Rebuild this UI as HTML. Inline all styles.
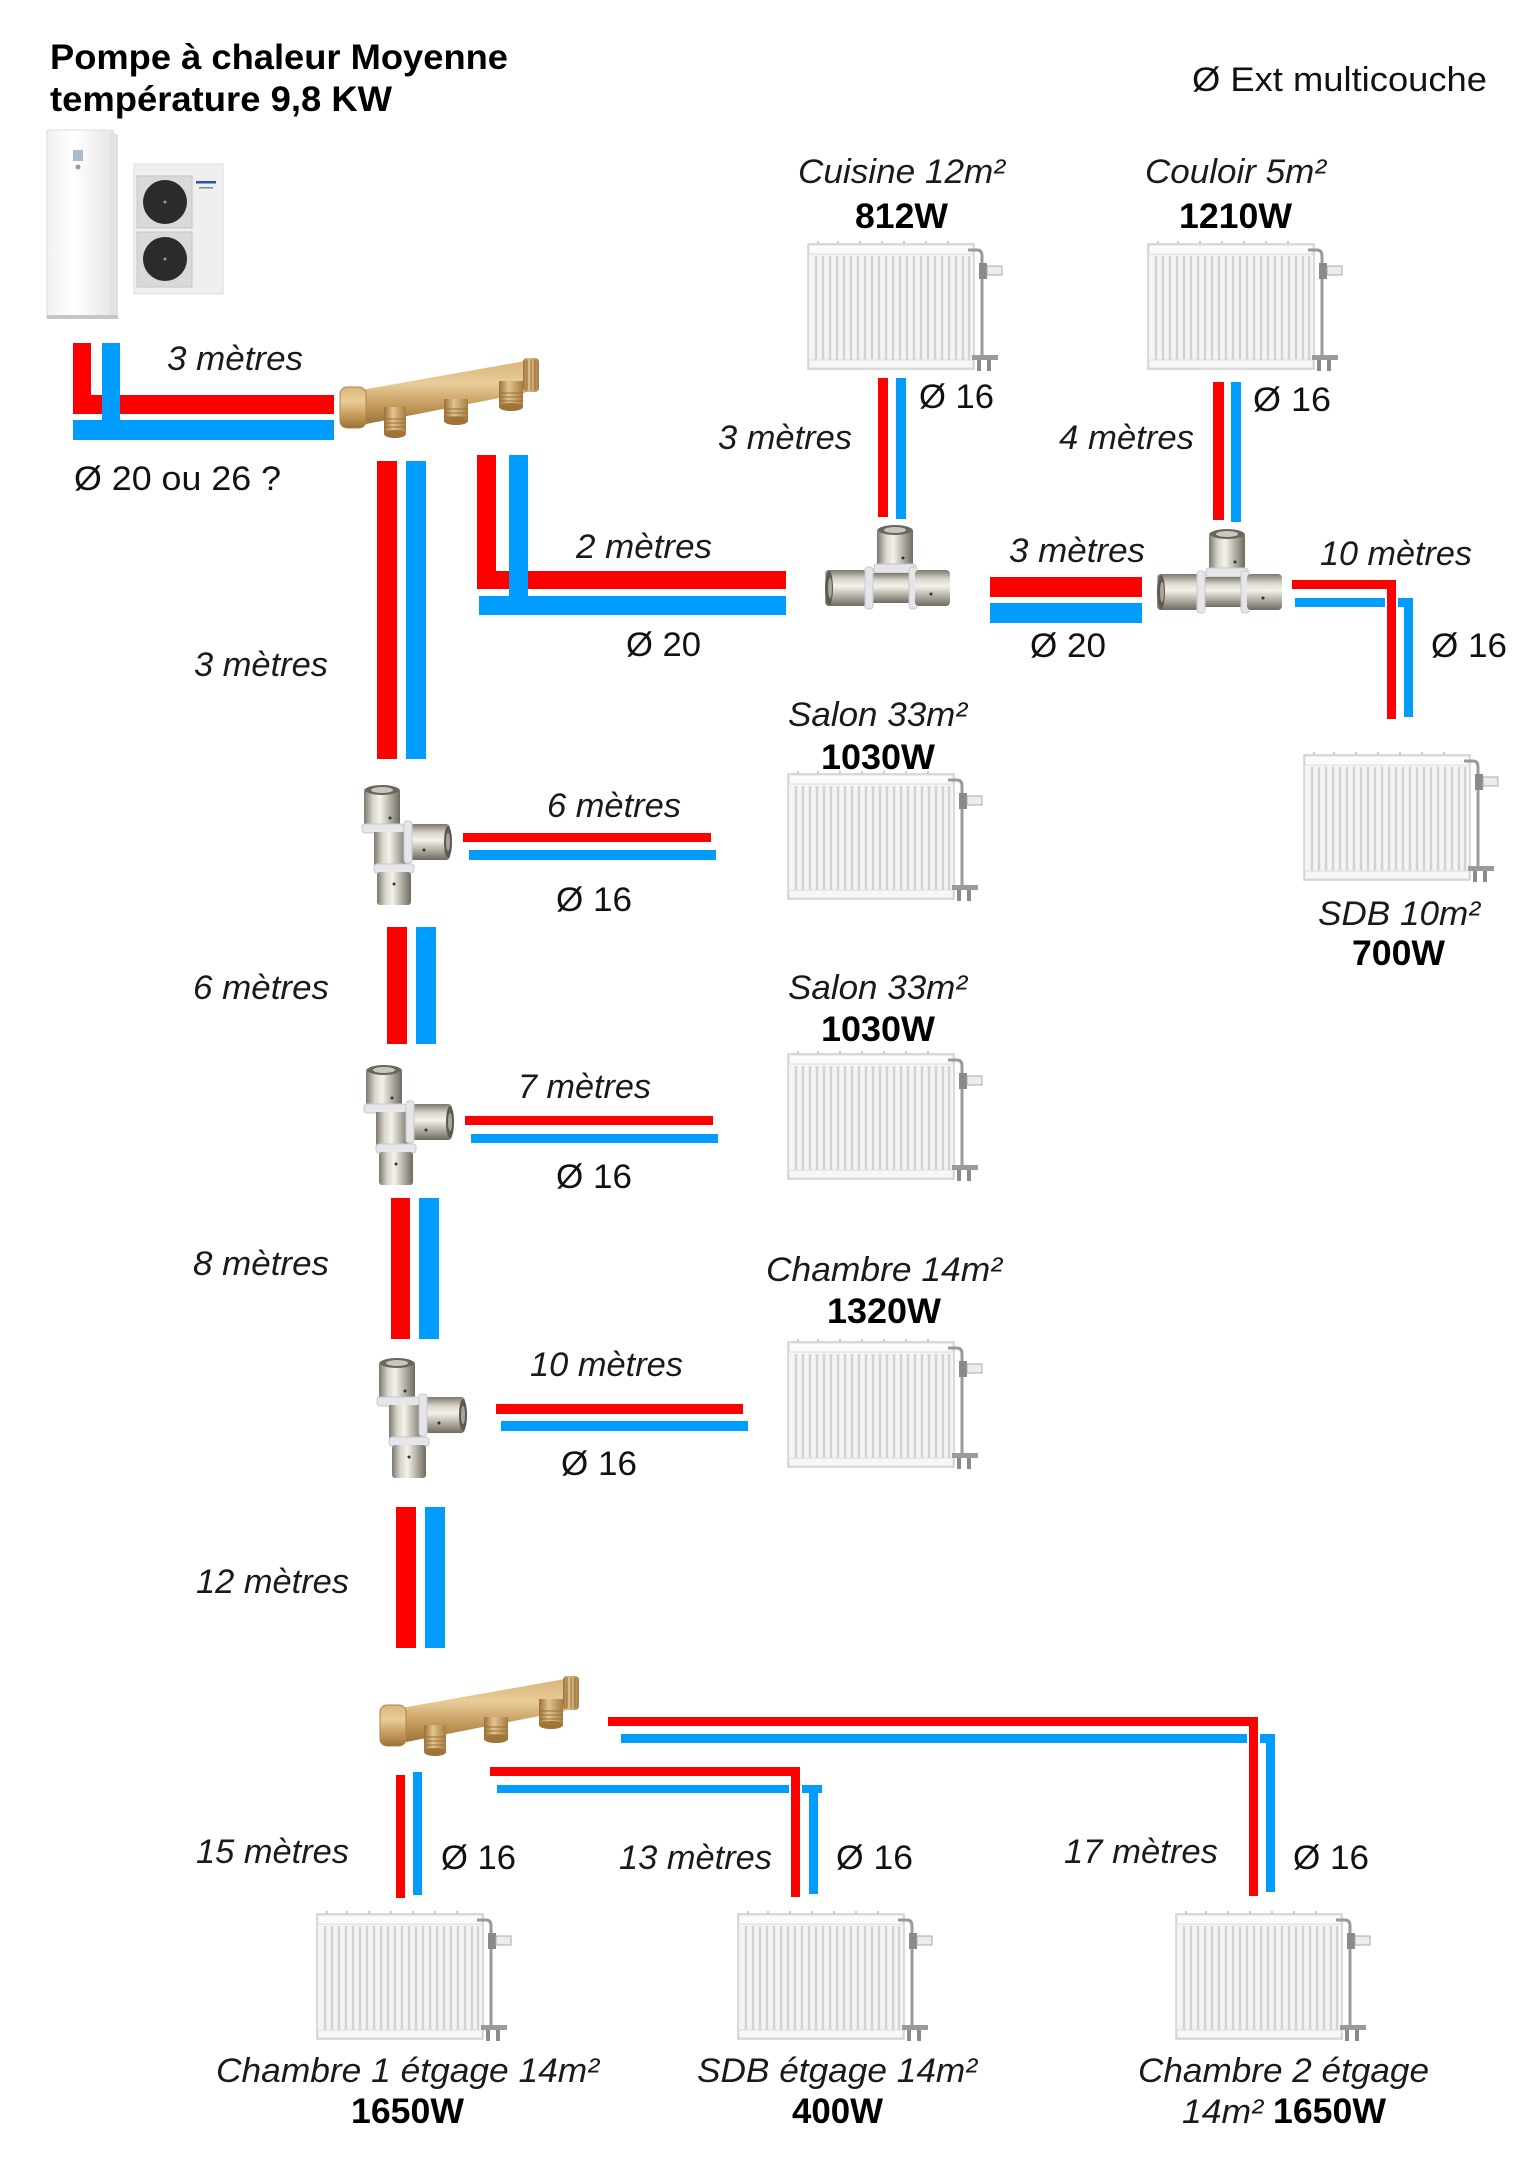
<!DOCTYPE html>
<html><head><meta charset="utf-8">
<style>
html,body{margin:0;padding:0;background:#fff;}
svg{display:block;}
.it{font-family:"Liberation Sans",Arial,sans-serif;font-style:italic;font-size:34px;fill:#1a1a1a;}
.rg{font-family:"Liberation Sans",Arial,sans-serif;font-size:34px;fill:#111;}
.bd{font-family:"Liberation Sans",Arial,sans-serif;font-weight:bold;font-size:35px;fill:#000;}
</style></head><body>
<svg width="1538" height="2176" viewBox="0 0 1538 2176" xmlns="http://www.w3.org/2000/svg">
<defs>
  <linearGradient id="sH" x1="0" y1="0" x2="1" y2="0">
    <stop offset="0" stop-color="#7d786c"/><stop offset=".25" stop-color="#d9d6cc"/>
    <stop offset=".45" stop-color="#f4f2ec"/><stop offset=".72" stop-color="#b4b0a5"/>
    <stop offset="1" stop-color="#6e6a60"/>
  </linearGradient>
  <linearGradient id="sV" x1="0" y1="0" x2="0" y2="1">
    <stop offset="0" stop-color="#7d786c"/><stop offset=".25" stop-color="#d9d6cc"/>
    <stop offset=".45" stop-color="#f4f2ec"/><stop offset=".72" stop-color="#b4b0a5"/>
    <stop offset="1" stop-color="#6e6a60"/>
  </linearGradient>
  <linearGradient id="br" x1="0" y1="0" x2="0" y2="1">
    <stop offset="0" stop-color="#d9b57c"/><stop offset=".35" stop-color="#e8cc98"/>
    <stop offset=".7" stop-color="#c49a5c"/><stop offset="1" stop-color="#9a7038"/>
  </linearGradient>
  <linearGradient id="brH" x1="0" y1="0" x2="1" y2="0">
    <stop offset="0" stop-color="#9a7038"/><stop offset=".4" stop-color="#e2c48e"/>
    <stop offset="1" stop-color="#a87c40"/>
  </linearGradient>
  <linearGradient id="ind" x1="0" y1="0" x2="1" y2="0">
    <stop offset="0" stop-color="#f1f1f1"/><stop offset=".4" stop-color="#ffffff"/>
    <stop offset="1" stop-color="#e6e6e6"/>
  </linearGradient>

  <g id="rad">
    <path d="M10 3V0M30 3V0M52 3V0M74 3V0M96 3V0M118 3V0M140 3V0" stroke="#bbb" stroke-width="1.5"/>
    <rect x="0" y="3" width="166" height="125" fill="#f4f4f4" stroke="#cfcfcf" stroke-width="1.5"/>
    <rect x="1" y="4" width="164" height="9" fill="#fbfbfb" stroke="#dcdcdc" stroke-width="1"/>
    <path d="M8 15V119M15 15V119M22 15V119M29 15V119M36 15V119M43 15V119M50 15V119M57 15V119M64 15V119M71 15V119M78 15V119M85 15V119M92 15V119M99 15V119M106 15V119M113 15V119M120 15V119M127 15V119M134 15V119M141 15V119M148 15V119M155 15V119M161 15V119" stroke="#d3d3d3" stroke-width="2.5"/>
    <rect x="1" y="119" width="164" height="8" fill="#f7f7f7" stroke="#dcdcdc" stroke-width="1"/>
    <path d="M160 9H169Q174 9 174 15V118" stroke="#9a9a9a" stroke-width="3" fill="none"/>
    <rect x="171" y="22" width="8" height="16" fill="#8a8a8a"/>
    <rect x="179" y="25" width="15" height="9" fill="#ececec" stroke="#aaa" stroke-width="1"/>
    <rect x="164" y="114" width="26" height="5" fill="#9a9a9a"/>
    <rect x="169" y="119" width="4" height="11" fill="#8a8a8a"/>
    <rect x="179" y="119" width="4" height="11" fill="#8a8a8a"/>
  </g>

  <g id="teeH">
    <rect x="52" y="4" width="36" height="40" rx="3" fill="url(#sH)"/>
    <ellipse cx="70" cy="6" rx="17" ry="5" fill="#6a665e"/>
    <ellipse cx="70" cy="6" rx="11" ry="3" fill="#c9c6bd"/>
    <rect x="49" y="40" width="42" height="9" rx="3" fill="#e6e6ea" stroke="#c8c8cc"/>
    <rect x="44" y="49" width="40" height="30" fill="url(#sV)"/>
    <rect x="0" y="46" width="42" height="36" rx="4" fill="url(#sV)"/>
    <ellipse cx="4" cy="64" rx="4" ry="17" fill="#5e5a52"/>
    <ellipse cx="5" cy="64" rx="2" ry="10" fill="#a9a59b"/>
    <rect x="40" y="43" width="8" height="42" rx="3" fill="#e6e6ea" stroke="#c8c8cc"/>
    <rect x="84" y="43" width="8" height="42" rx="3" fill="#e6e6ea" stroke="#c8c8cc"/>
    <rect x="90" y="46" width="35" height="36" rx="4" fill="url(#sV)"/>
    <circle cx="106" cy="70" r="1.5" fill="#333"/>
    <circle cx="78" cy="34" r="1.5" fill="#333"/>
  </g>

  <g id="teeV">
    <rect x="2" y="4" width="36" height="40" rx="3" fill="url(#sH)"/>
    <ellipse cx="20" cy="6" rx="17" ry="5" fill="#6a665e"/>
    <ellipse cx="20" cy="6" rx="11" ry="3" fill="#c9c6bd"/>
    <rect x="0" y="40" width="42" height="9" rx="3" fill="#e6e6ea" stroke="#c8c8cc"/>
    <rect x="12" y="48" width="34" height="34" fill="url(#sH)"/>
    <rect x="48" y="40" width="40" height="36" rx="4" fill="url(#sV)"/>
    <ellipse cx="86" cy="58" rx="4" ry="16" fill="#5e5a52"/>
    <ellipse cx="86" cy="58" rx="2" ry="9" fill="#a9a59b"/>
    <rect x="42" y="37" width="8" height="42" rx="3" fill="#e6e6ea" stroke="#c8c8cc"/>
    <rect x="12" y="80" width="40" height="9" rx="3" fill="#e6e6ea" stroke="#c8c8cc"/>
    <rect x="15" y="88" width="34" height="33" rx="3" fill="url(#sH)"/>
    <circle cx="28" cy="34" r="1.5" fill="#333"/>
    <circle cx="62" cy="66" r="1.5" fill="#333"/>
    <circle cx="32" cy="100" r="1.5" fill="#333"/>
  </g>

  <g id="mani">
    <polygon points="22,33 186,4 186,36 22,68" fill="url(#br)"/>
    <rect x="184" y="1" width="16" height="34" rx="4" fill="url(#brH)"/>
    <path d="M188 3V33M192 2V34M196 3V33" stroke="#9a7038" stroke-width="1"/>
    <rect x="1" y="30" width="26" height="41" rx="7" fill="url(#br)" stroke="#b08548" stroke-width="1"/>
    <rect x="45" y="50" width="22" height="26" fill="url(#brH)"/>
    <ellipse cx="56" cy="77" rx="11" ry="4" fill="#a07438"/>
    <path d="M45 62H67M45 66H67M45 70H67" stroke="#9a7038" stroke-width="1"/>
    <rect x="105" y="42" width="24" height="22" fill="url(#brH)"/>
    <ellipse cx="117" cy="64" rx="12" ry="4" fill="#a07438"/>
    <path d="M105 52H129M105 56H129M105 60H129" stroke="#9a7038" stroke-width="1"/>
    <rect x="160" y="24" width="24" height="26" fill="url(#brH)"/>
    <ellipse cx="172" cy="50" rx="12" ry="4" fill="#a07438"/>
    <path d="M160 36H184M160 40H184M160 44H184" stroke="#9a7038" stroke-width="1"/>
  </g>
</defs>

<!-- Title -->
<text class="bd" x="50" y="69" textLength="458" lengthAdjust="spacingAndGlyphs">Pompe à chaleur Moyenne</text>
<text class="bd" x="50" y="111" textLength="342" lengthAdjust="spacingAndGlyphs">température 9,8 KW</text>
<text class="rg" x="1192" y="91" textLength="295" lengthAdjust="spacingAndGlyphs">Ø Ext multicouche</text>

<!-- Heat pump -->
<rect x="47" y="130" width="66" height="188" fill="url(#ind)" stroke="#dedede" stroke-width="1"/>
<polygon points="110,131 118,135 118,318 110,318" fill="#e2e2e2"/>
<rect x="47" y="315" width="71" height="4" fill="#c6c6c6"/>
<rect x="73" y="150" width="10" height="11" fill="#a9bccb"/>
<circle cx="78" cy="167" r="2.5" fill="#9a9a9a"/>
<rect x="134" y="164" width="89" height="130" fill="#efefef" stroke="#dddddd" stroke-width="1"/>
<rect x="137" y="176" width="55" height="52" fill="#d9d9d9" stroke="#c6c6c6" stroke-width="1"/>
<circle cx="165" cy="202" r="22" fill="#2b2b2b"/>
<circle cx="165" cy="202" r="1.5" fill="#999"/>
<rect x="137" y="232" width="55" height="55" fill="#d9d9d9" stroke="#c6c6c6" stroke-width="1"/>
<circle cx="165" cy="259" r="22" fill="#2b2b2b"/>
<circle cx="165" cy="259" r="1.5" fill="#999"/>
<rect x="196" y="181" width="20" height="2.5" fill="#2a56a8"/>
<rect x="199" y="187" width="14" height="1.5" fill="#888"/>

<!-- Top-left pipes -->
<rect x="73" y="343" width="18" height="71" fill="#ff0000"/>
<rect x="73" y="395" width="261" height="19" fill="#ff0000"/>
<rect x="102" y="343" width="18" height="77" fill="#009dff"/>
<rect x="73" y="420" width="261" height="20" fill="#009dff"/>
<text class="it" x="167" y="370" textLength="136" lengthAdjust="spacingAndGlyphs">3 mètres</text>
<text class="rg" x="74" y="490" textLength="207" lengthAdjust="spacingAndGlyphs">Ø 20 ou 26 ?</text>

<!-- Manifold 1 -->
<use href="#mani" x="339" y="357"/>

<!-- Main vertical 3m -->
<rect x="377" y="461" width="20" height="298" fill="#ff0000"/>
<rect x="406" y="461" width="20" height="298" fill="#009dff"/>
<text class="it" x="194" y="676" textLength="134" lengthAdjust="spacingAndGlyphs">3 mètres</text>

<!-- Branch 2m to tee1 -->
<rect x="477" y="455" width="19" height="134" fill="#ff0000"/>
<rect x="477" y="571" width="309" height="18" fill="#ff0000"/>
<rect x="509" y="455" width="19" height="160" fill="#009dff"/>
<rect x="479" y="596" width="307" height="19" fill="#009dff"/>
<text class="it" x="576" y="558" textLength="136" lengthAdjust="spacingAndGlyphs">2 mètres</text>
<text class="rg" x="626" y="656" textLength="75" lengthAdjust="spacingAndGlyphs">Ø 20</text>

<!-- Tee 1 & Cuisine -->
<use href="#teeH" x="825" y="524"/>
<text class="it" x="798" y="183" textLength="207" lengthAdjust="spacingAndGlyphs">Cuisine 12m²</text>
<text class="bd" x="855" y="228" textLength="93" lengthAdjust="spacingAndGlyphs">812W</text>
<use href="#rad" x="808" y="241"/>
<rect x="878" y="378" width="10" height="139" fill="#ff0000"/>
<rect x="896" y="378" width="10" height="141" fill="#009dff"/>
<text class="rg" x="919" y="408" textLength="75" lengthAdjust="spacingAndGlyphs">Ø 16</text>
<text class="it" x="718" y="449" textLength="134" lengthAdjust="spacingAndGlyphs">3 mètres</text>

<!-- Between tees -->
<rect x="990" y="577" width="152" height="20" fill="#ff0000"/>
<rect x="990" y="603" width="152" height="20" fill="#009dff"/>
<text class="it" x="1009" y="562" textLength="136" lengthAdjust="spacingAndGlyphs">3 mètres</text>
<text class="rg" x="1030" y="657" textLength="76" lengthAdjust="spacingAndGlyphs">Ø 20</text>

<!-- Tee 2 & Couloir -->
<use href="#teeH" x="1157" y="528"/>
<text class="it" x="1145" y="183" textLength="181" lengthAdjust="spacingAndGlyphs">Couloir 5m²</text>
<text class="bd" x="1179" y="228" textLength="113" lengthAdjust="spacingAndGlyphs">1210W</text>
<use href="#rad" x="1148" y="241"/>
<rect x="1213" y="382" width="11" height="138" fill="#ff0000"/>
<rect x="1231" y="382" width="10" height="140" fill="#009dff"/>
<text class="rg" x="1253" y="411" textLength="78" lengthAdjust="spacingAndGlyphs">Ø 16</text>
<text class="it" x="1059" y="449" textLength="135" lengthAdjust="spacingAndGlyphs">4 mètres</text>

<!-- Branch to SDB 10 -->
<rect x="1295" y="598" width="118" height="9" fill="#009dff"/>
<rect x="1404" y="598" width="9" height="119" fill="#009dff"/>
<rect x="1292" y="580" width="104" height="9" fill="#ff0000"/>
<rect x="1385" y="597" width="13" height="11" fill="#ffffff"/>
<rect x="1387" y="580" width="9" height="139" fill="#ff0000"/>
<text class="it" x="1320" y="565" textLength="152" lengthAdjust="spacingAndGlyphs">10 mètres</text>
<text class="rg" x="1431" y="657" textLength="76" lengthAdjust="spacingAndGlyphs">Ø 16</text>
<use href="#rad" x="1304" y="752"/>
<text class="it" x="1318" y="925" textLength="162" lengthAdjust="spacingAndGlyphs">SDB 10m²</text>
<text class="bd" x="1352" y="965" textLength="93" lengthAdjust="spacingAndGlyphs">700W</text>

<!-- Tee A / Salon 1 -->
<use href="#teeV" x="362" y="784"/>
<rect x="463" y="833" width="248" height="9" fill="#ff0000"/>
<rect x="469" y="850" width="247" height="10" fill="#009dff"/>
<text class="it" x="547" y="817" textLength="134" lengthAdjust="spacingAndGlyphs">6 mètres</text>
<text class="rg" x="556" y="911" textLength="76" lengthAdjust="spacingAndGlyphs">Ø 16</text>
<text class="it" x="788" y="726" textLength="179" lengthAdjust="spacingAndGlyphs">Salon 33m²</text>
<text class="bd" x="821" y="769" textLength="114" lengthAdjust="spacingAndGlyphs">1030W</text>
<use href="#rad" x="788" y="771"/>

<!-- 6m vertical -->
<rect x="387" y="927" width="20" height="117" fill="#ff0000"/>
<rect x="416" y="927" width="20" height="117" fill="#009dff"/>
<text class="it" x="193" y="999" textLength="136" lengthAdjust="spacingAndGlyphs">6 mètres</text>

<!-- Tee B / Salon 2 -->
<use href="#teeV" x="364" y="1064"/>
<rect x="465" y="1116" width="248" height="9" fill="#ff0000"/>
<rect x="471" y="1134" width="247" height="9" fill="#009dff"/>
<text class="it" x="518" y="1098" textLength="133" lengthAdjust="spacingAndGlyphs">7 mètres</text>
<text class="rg" x="556" y="1188" textLength="76" lengthAdjust="spacingAndGlyphs">Ø 16</text>
<text class="it" x="788" y="999" textLength="179" lengthAdjust="spacingAndGlyphs">Salon 33m²</text>
<text class="bd" x="821" y="1041" textLength="114" lengthAdjust="spacingAndGlyphs">1030W</text>
<use href="#rad" x="788" y="1051"/>

<!-- 8m vertical -->
<rect x="391" y="1198" width="19" height="141" fill="#ff0000"/>
<rect x="419" y="1198" width="20" height="141" fill="#009dff"/>
<text class="it" x="193" y="1275" textLength="136" lengthAdjust="spacingAndGlyphs">8 mètres</text>

<!-- Tee C / Chambre -->
<use href="#teeV" x="377" y="1357"/>
<rect x="496" y="1404" width="247" height="10" fill="#ff0000"/>
<rect x="501" y="1421" width="247" height="10" fill="#009dff"/>
<text class="it" x="530" y="1376" textLength="153" lengthAdjust="spacingAndGlyphs">10 mètres</text>
<text class="rg" x="561" y="1475" textLength="76" lengthAdjust="spacingAndGlyphs">Ø 16</text>
<text class="it" x="766" y="1281" textLength="236" lengthAdjust="spacingAndGlyphs">Chambre 14m²</text>
<text class="bd" x="827" y="1323" textLength="114" lengthAdjust="spacingAndGlyphs">1320W</text>
<use href="#rad" x="788" y="1339"/>

<!-- 12m vertical -->
<rect x="396" y="1507" width="20" height="141" fill="#ff0000"/>
<rect x="425" y="1507" width="20" height="141" fill="#009dff"/>
<text class="it" x="196" y="1593" textLength="153" lengthAdjust="spacingAndGlyphs">12 mètres</text>

<!-- Manifold 2 -->
<use href="#mani" x="379" y="1675"/>

<!-- Upstairs branches -->
<rect x="621" y="1734" width="654" height="9" fill="#009dff"/>
<rect x="1266" y="1734" width="9" height="158" fill="#009dff"/>
<rect x="608" y="1717" width="650" height="9" fill="#ff0000"/>
<rect x="1247" y="1733" width="13" height="11" fill="#ffffff"/>
<rect x="1249" y="1717" width="9" height="179" fill="#ff0000"/>

<rect x="497" y="1785" width="325" height="8" fill="#009dff"/>
<rect x="809" y="1793" width="9" height="101" fill="#009dff"/>
<rect x="490" y="1767" width="310" height="9" fill="#ff0000"/>
<rect x="789" y="1784" width="13" height="10" fill="#ffffff"/>
<rect x="791" y="1767" width="9" height="130" fill="#ff0000"/>

<rect x="396" y="1775" width="9" height="123" fill="#ff0000"/>
<rect x="413" y="1772" width="9" height="123" fill="#009dff"/>

<text class="it" x="196" y="1863" textLength="153" lengthAdjust="spacingAndGlyphs">15 mètres</text>
<text class="rg" x="441" y="1869" textLength="75" lengthAdjust="spacingAndGlyphs">Ø 16</text>
<text class="it" x="619" y="1869" textLength="153" lengthAdjust="spacingAndGlyphs">13 mètres</text>
<text class="rg" x="836" y="1869" textLength="77" lengthAdjust="spacingAndGlyphs">Ø 16</text>
<text class="it" x="1064" y="1863" textLength="154" lengthAdjust="spacingAndGlyphs">17 mètres</text>
<text class="rg" x="1293" y="1869" textLength="76" lengthAdjust="spacingAndGlyphs">Ø 16</text>

<use href="#rad" x="317" y="1911"/>
<use href="#rad" x="738" y="1911"/>
<use href="#rad" x="1176" y="1911"/>

<text class="it" x="216" y="2082" textLength="383" lengthAdjust="spacingAndGlyphs">Chambre 1 étgage 14m²</text>
<text class="bd" x="351" y="2123" textLength="113" lengthAdjust="spacingAndGlyphs">1650W</text>
<text class="it" x="697" y="2082" textLength="280" lengthAdjust="spacingAndGlyphs">SDB étgage 14m²</text>
<text class="bd" x="792" y="2123" textLength="91" lengthAdjust="spacingAndGlyphs">400W</text>
<text class="it" x="1138" y="2082" textLength="291" lengthAdjust="spacingAndGlyphs">Chambre 2 étgage</text>
<text class="it" x="1182" y="2123" textLength="81" lengthAdjust="spacingAndGlyphs">14m²</text>
<text class="bd" x="1273" y="2123" textLength="113" lengthAdjust="spacingAndGlyphs">1650W</text>
</svg>
</body></html>
